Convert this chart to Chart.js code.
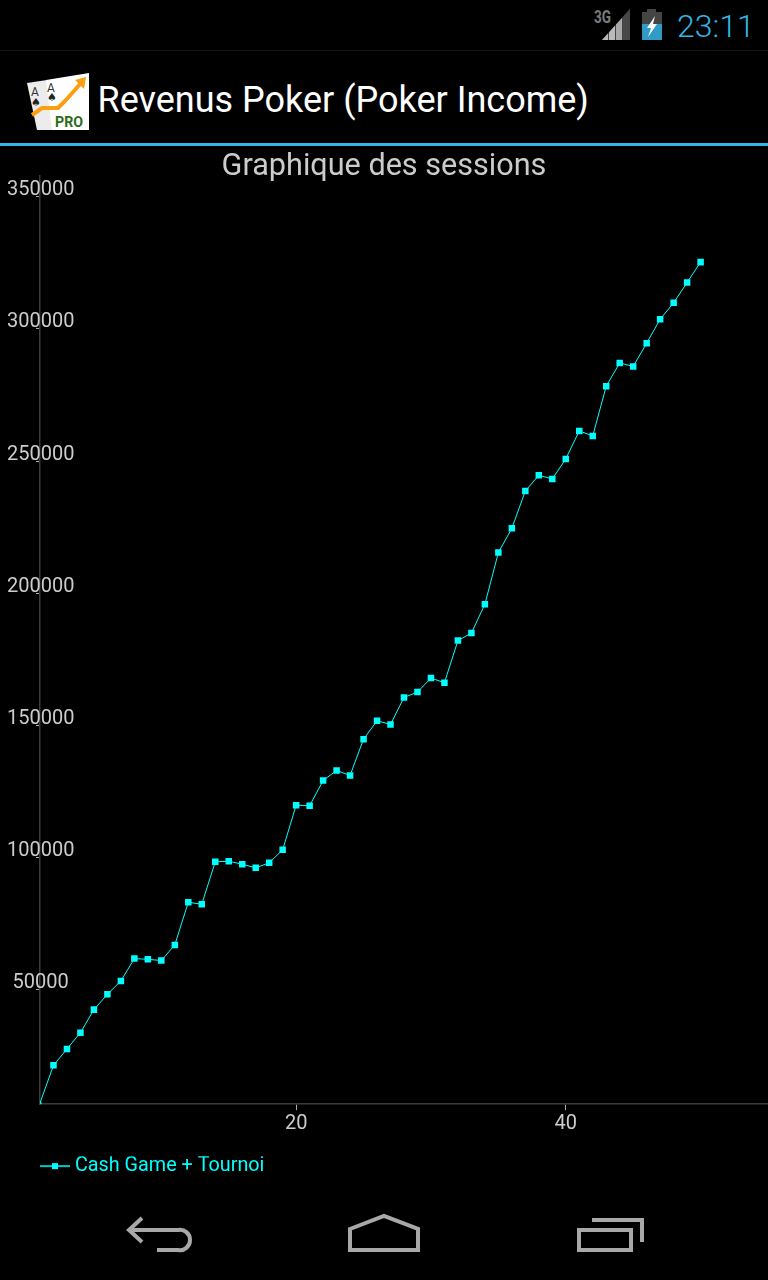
<!DOCTYPE html>
<html>
<head>
<meta charset="utf-8">
<title>Graphique des sessions</title>
<script src="https://cdn.jsdelivr.net/npm/chart.js@4"></script>
<style>
  html, body { margin: 0; background: #000; }
  #screen { position: relative; width: 768px; height: 1280px; overflow: hidden; background: #000; font-family: Roboto, sans-serif; }
  #screen > * { position: absolute; }
  #statusLine { left: 0; top: 50px; width: 768px; height: 1px; background: #141414; }
  #blueLine { left: 0; top: 143px; width: 768px; height: 3px; background: #33b5e5; }
  #clock { left: 677px; top: 5px; font-size: 32px; font-weight: 300; line-height: 42px; color: #33b5e5; }
  #appTitle { left: 97.5px; top: 76px; font-size: 36px; line-height: 48px; color: #fff; white-space: nowrap; }
  #sessionsChart { left: 0; top: 146px; }
  svg { left: 0; top: 0; }
</style>
</head>
<body>
<div id="screen">
  <svg width="768" height="1280" viewBox="0 0 768 1280">
    <defs>
      <clipPath id="signalClip"><polygon points="602,40 630,40 630,9"/></clipPath>
    </defs>
    <text x="594" y="23" font-family="Roboto" font-weight="700" font-size="18" fill="#7a7a7a" textLength="17" lengthAdjust="spacingAndGlyphs">3G</text>
    <g clip-path="url(#signalClip)">
      <rect x="602" y="9" width="28" height="31" fill="#444"/>
      <rect x="602" y="9" width="6" height="31" fill="#bbb"/>
      <rect x="609" y="9" width="6" height="31" fill="#bbb"/>
      <rect x="616" y="9" width="6" height="31" fill="#a8a8a8"/>
      <rect x="623" y="9" width="7" height="31" fill="#484848"/>
    </g>
    <rect x="647" y="9" width="9" height="4" fill="#444"/>
    <rect x="642" y="12" width="20" height="12" fill="#444"/>
    <rect x="642" y="24" width="20" height="16" fill="#2f9bc6"/>
    <polygon points="655,16 647,28 651,28 648,37 657,24 653,24" fill="#fff"/>

    <polygon points="27,83 47,80 55,130 37,130" fill="#ececec"/>
    <polygon points="46,80 89,73 89,130 52,130" fill="#fff"/>
    <text x="31" y="96" font-family="Roboto" font-size="12" fill="#333">A</text>
    <text x="47" y="92" font-family="Roboto" font-size="12" fill="#333">A</text>
    <text x="31" y="106" font-family="DejaVu Sans" font-size="11" fill="#222">♠</text>
    <text x="47" y="101" font-family="DejaVu Sans" font-size="11" fill="#222">♠</text>
    <polyline points="32,115 42,108 58,108 66,100 81,83" fill="none" stroke="#fb9f11" stroke-width="4"/>
    <polygon points="75,80 86,77 84,89" fill="#fb9f11"/>
    <text x="55" y="127" font-family="Roboto" font-weight="700" font-size="14" fill="#2c6b1a" textLength="28" lengthAdjust="spacingAndGlyphs">PRO</text>

    <g fill="none" stroke="#a8a8a8" stroke-width="4">
      <path d="M142,1218 L129,1230 L142,1242"/>
      <path d="M131,1230 H178 A10,10 0 0 1 190,1240 A10,10 0 0 1 178,1250 H157"/>
      <polygon points="350,1229 384,1216 418,1229 418,1250 350,1250"/>
      <rect x="579" y="1230" width="52" height="20"/>
      <path d="M592,1220 H642 V1242"/>
    </g>
  </svg>
  <div id="statusLine"></div>
  <div id="clock">23:11</div>
  <div id="appTitle">Revenus Poker (Poker Income)</div>
  <div id="blueLine"></div>
  <canvas id="sessionsChart" width="768" height="1040"></canvas>
</div>
<script>
const sessions = [1, 2, 3, 4, 5, 6, 7, 8, 9, 10, 11, 12, 13, 14, 15, 16, 17, 18, 19, 20, 21, 22, 23, 24, 25,
  26, 27, 28, 29, 30, 31, 32, 33, 34, 35, 36, 37, 38, 39, 40, 41, 42, 43, 44, 45, 46, 47, 48, 49, 50];
const income = [7000, 21250, 27460, 33630, 42350, 48140, 53220, 61660, 61400, 60910,
  66850, 82990, 82230, 98290, 98520, 97380, 96020, 97910, 102840, 119730,
  119510, 129090, 132880, 130980, 144730, 151700, 150300, 160530, 162540, 167840,
  166100, 182040, 184890, 195760, 215340, 224550, 238670, 244620, 243220, 250800,
  261400, 259510, 278330, 287160, 285800, 294620, 303710, 309890, 317610, 325300];
const xTicks = [20, 40];
const yTicks = [50000, 100000, 150000, 200000, 250000, 300000, 350000];
const seriesName = 'Cash Game + Tournoi';
const chartTitle = 'Graphique des sessions';

const CYAN = '#00ffff';
const LABEL = '#cccccc';

// legend marker: short line with a square in the middle
function legendMarker() {
  const c = document.createElement('canvas');
  c.width = 75;
  c.height = 20;
  const g = c.getContext('2d');
  g.fillStyle = '#00c8c8';
  g.fillRect(45, 9, 30, 2);
  g.fillStyle = CYAN;
  g.fillRect(57, 7, 6, 6);
  return c;
}

new Chart(document.getElementById('sessionsChart'), {
  type: 'line',
  data: {
    datasets: [{
      label: seriesName,
      data: sessions.map((s, i) => ({ x: s, y: income[i] })),
      borderColor: CYAN,
      borderWidth: 1,
      tension: 0,
      pointStyle: 'rect',
      pointBackgroundColor: CYAN,
      pointBorderWidth: 0,
      pointRadius: ctx => ctx.dataIndex === 0 ? 2 : 4.6
    }]
  },
  options: {
    responsive: false,
    animation: false,
    layout: { padding: 0, autoPadding: false },
    plugins: {
      tooltip: { enabled: false },
      title: {
        display: true,
        text: chartTitle,
        color: LABEL,
        font: { family: 'Roboto', size: 30.6, weight: 'normal', lineHeight: 1 },
        padding: { top: 6.4, bottom: -7 }
      },
      legend: {
        position: 'bottom',
        align: 'start',
        labels: {
          usePointStyle: true,
          pointStyle: legendMarker(),
          pointStyleWidth: 65,
          padding: 0,
          color: CYAN,
          font: { family: 'Roboto', size: 19.8 }
        }
      }
    },
    scales: {
      x: {
        type: 'linear',
        min: 1,
        max: 55,
        afterBuildTicks: axis => { axis.ticks = xTicks.map(v => ({ value: v })); },
        afterFit: axis => { axis.height = 52; },
        border: { color: '#3c3c3c', width: 1.5 },
        grid: { drawOnChartArea: false, tickLength: 6, tickColor: '#aaa', tickWidth: 1 },
        ticks: { color: LABEL, padding: 2, maxRotation: 0, font: { family: 'Roboto', size: 20 } }
      },
      y: {
        min: 6550,
        max: 357900,
        afterBuildTicks: axis => { axis.ticks = yTicks.map(v => ({ value: v })); },
        afterFit: axis => { axis.width = 40; },
        border: { color: '#3c3c3c', width: 1.5 },
        grid: { drawOnChartArea: false, tickLength: 4, tickColor: '#aaa', tickWidth: 1 },
        ticks: {
          color: LABEL,
          mirror: true,
          crossAlign: 'center',
          padding: -33,
          labelOffset: -6.5,
          font: { family: 'Roboto', size: 20 },
          callback: v => String(v)
        }
      }
    }
  }
});
</script>
</body>
</html>
